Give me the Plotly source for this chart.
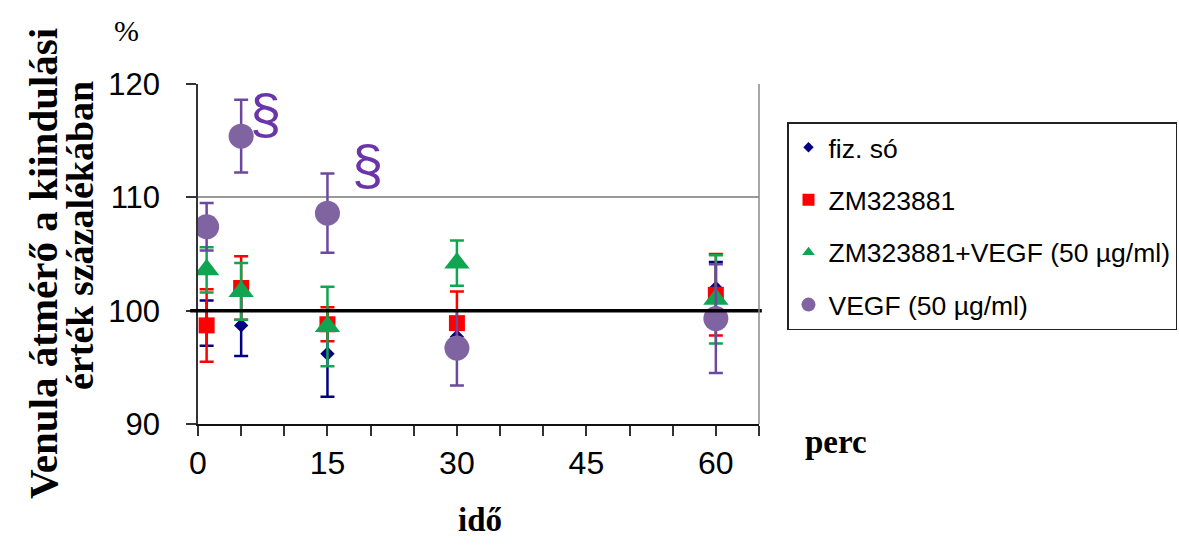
import plotly.graph_objects as go

# ---- data ----
minutes = [1, 5, 15, 30, 60]
fiz_so = [98.9, 98.7, 96.2, 97.7, 102.0]
fiz_so_err = [2.0, 2.7, 3.8, 1.0, 2.3]
zm = [98.7, 102.0, 98.8, 98.9, 101.4]
zm_err = [3.2, 2.8, 1.5, 2.8, 3.6]
zm_vegf = [103.6, 101.7, 98.6, 104.2, 101.0]
zm_vegf_err = [2.0, 2.5, 3.5, 2.0, 3.9]
vegf = [107.4, 115.4, 108.6, 96.7, 99.3]
vegf_err = [2.1, 3.2, 3.5, 3.3, 4.8]

names = ["fiz. só", "ZM323881", "ZM323881+VEGF (50 µg/ml)", "VEGF (50 µg/ml)"]
x_ticks = [0, 5, 10, 15, 20, 25, 30, 35, 40, 45, 50, 55, 60, 65]
x_labels = ["0", "", "", "15", "", "", "30", "", "", "45", "", "", "60", ""]
y_ticks = [90, 100, 110, 120]
sig_marks = [(7.8, 117.4), (19.6, 112.9)]

W, H = 1179, 556
series = [
    (fiz_so, fiz_so_err, "#000080", "#000080", "diamond", 11, 8),
    (zm, zm_err, "#FF0000", "#FF0000", "square", 16, 12),
    (zm_vegf, zm_vegf_err, "#10A550", "#10A550", "triangle-up", 22, 11),
    (vegf, vegf_err, "#8064A2", "#6B4A9E", "circle", 25, 14),
]

fig = go.Figure()
for (vals, errs, mcol, ecol, sym, size, lsize), name in zip(series, names):
    fig.add_trace(go.Scatter(
        x=minutes, y=vals, mode="markers", name=name, showlegend=False,
        marker=dict(symbol=sym, size=size, color=mcol, line=dict(width=0)),
        error_y=dict(type="data", array=errs, visible=True, color=ecol,
                     thickness=2.5, width=7),
    ))
for (vals, errs, mcol, ecol, sym, size, lsize), name in zip(series, names):
    fig.add_trace(go.Scatter(
        x=[None], y=[None], mode="markers", name=name, legendgroup=name,
        marker=dict(symbol=sym, size=lsize, color=mcol, line=dict(width=0)),
    ))

# reference line at 100 %
fig.add_shape(type="line", xref="x domain", yref="y", x0=-0.014, x1=1.005,
              y0=100, y1=100, line=dict(color="black", width=3.5), layer="above")
# right border of plot area
fig.add_shape(type="line", xref="x domain", yref="y domain", x0=1, x1=1,
              y0=0, y1=1, line=dict(color="#8a8a8a", width=1.5))

for sx, sy in sig_marks:
    fig.add_annotation(x=sx, y=sy, text="§", showarrow=False,
                       xanchor="center", yanchor="middle",
                       font=dict(family="Liberation Sans, Arial", size=56, color="#6A35A8"))

serif = "Liberation Serif, Times New Roman, serif"


def label(px, py, text, size, angle=0):
    fig.add_annotation(xref="paper", yref="paper", x=px / W, y=1 - py / H,
                       xanchor="center", yanchor="middle", text=text,
                       textangle=angle, showarrow=False,
                       font=dict(family=serif, size=size, color="black"))


label(43, 264, "<b>Venula átmérő a kiindulási</b>", 41, -90)
label(80, 236, "<b>érték százalékában</b>", 38, -90)
label(126, 31, "%", 30)
label(836, 442, "<b>perc</b>", 33)
label(480, 520, "<b>idő</b>", 33)

fig.update_layout(
    width=W, height=H, autosize=False,
    margin=dict(l=0, r=0, t=0, b=0, autoexpand=False),
    paper_bgcolor="white", plot_bgcolor="white",
    showlegend=True,
    legend=dict(x=787 / W, y=1 - 122 / H, xanchor="left", yanchor="top",
                bgcolor="white", bordercolor="#222", borderwidth=1.5,
                font=dict(family="Liberation Sans, Arial", size=26.5, color="black"),
                traceorder="grouped", tracegroupgap=15, itemwidth=30),
    xaxis=dict(domain=[198 / W, 759 / W], range=[0, 65], tickmode="array",
               tickvals=x_ticks, ticktext=x_labels, ticks="outside", ticklen=10,
               tickwidth=1.5, tickcolor="#333", showline=True, linecolor="#111",
               linewidth=2, showgrid=False, zeroline=False, automargin=False,
               tickfont=dict(family="Liberation Sans, Arial", size=32, color="black")),
    yaxis=dict(domain=[1 - 424 / H, 1 - 84 / H], range=[90, 120], tickmode="array",
               tickvals=y_ticks, ticks="outside", ticklen=10, tickwidth=1.5,
               tickcolor="#333", showline=True, linecolor="#333", linewidth=1.5,
               showgrid=True, gridcolor="#999", gridwidth=1.5, zeroline=False,
               ticklabelstandoff=20, automargin=False,
               tickfont=dict(family="Liberation Sans, Arial", size=31, color="black")),
)

fig.write_html("out.html")
